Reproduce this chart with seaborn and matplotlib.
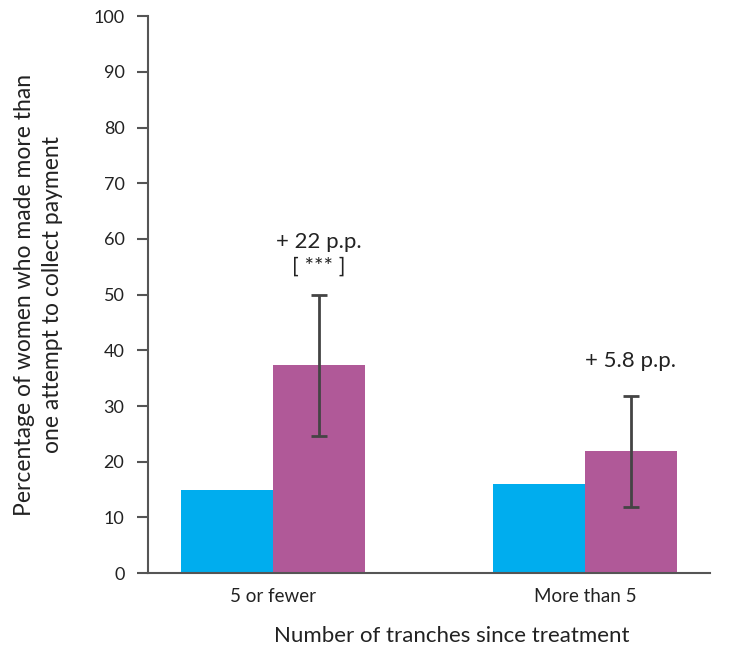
import seaborn as sns
import matplotlib.pyplot as plt
import pandas as pd

groups = ['5 or fewer', 'More than 5']
arms = ['Control', 'Treatment']
control = [14.9, 16.0]
treatment = [37.3, 21.9]
err_low = [24.7, 11.8]
err_high = [50.0, 31.8]
labels = ['+ 22 p.p.\n[ *** ]', '+ 5.8 p.p.']
label_y = [57.3, 38.0]

df = pd.DataFrame({
    'group': groups * 2,
    'arm': [arms[0]] * 2 + [arms[1]] * 2,
    'value': control + treatment,
})

sns.set_style('white')
plt.rcParams['font.family'] = ['Lato', 'DejaVu Sans']

fig = plt.figure(figsize=(7.31, 6.49), dpi=100)
ax = fig.add_axes([0.2025, 0.117, 0.7685, 0.858])

sns.barplot(data=df, x='group', y='value', hue='arm', order=groups, hue_order=arms,
            palette=['#00ADEE', '#B05998'], width=0.59, saturation=1, errorbar=None,
            legend=False, linewidth=0, ax=ax)

# error bars and labels on the treatment bars
tbars = ax.containers[1]
for i, bar in enumerate(tbars):
    xc = bar.get_x() + bar.get_width() / 2
    v = treatment[i]
    ax.errorbar(xc, v, yerr=[[v - err_low[i]], [err_high[i] - v]], fmt='none',
                ecolor='#444444', elinewidth=2, capsize=5.5, capthick=2)
    ax.text(xc, label_y[i], labels[i], ha='center', va='center', fontsize=16,
            color='#222222', linespacing=1.3)

ax.set_xlim(-0.4, 1.4)
ax.set_ylim(0, 100)
ax.set_yticks(range(0, 101, 10))
ax.set_xlabel('Number of tranches since treatment', fontsize=16, color='#222222', labelpad=15)
ax.xaxis.label.set_x(0.54)
ax.set_ylabel('Percentage of women who made more than\none attempt to collect payment',
              fontsize=16.5, color='#222222', labelpad=22, linespacing=1.4)
sns.despine(ax=ax)
for s in ['left', 'bottom']:
    ax.spines[s].set_color('#555555')
    ax.spines[s].set_linewidth(1.5)
ax.tick_params(axis='y', length=8, width=1.5, color='#555555', labelsize=13,
               labelcolor='#222222', pad=9, direction='out', left=True)
ax.tick_params(axis='x', length=0, labelsize=13.5, labelcolor='#222222', pad=11)

fig.savefig('out.png', dpi=100)
